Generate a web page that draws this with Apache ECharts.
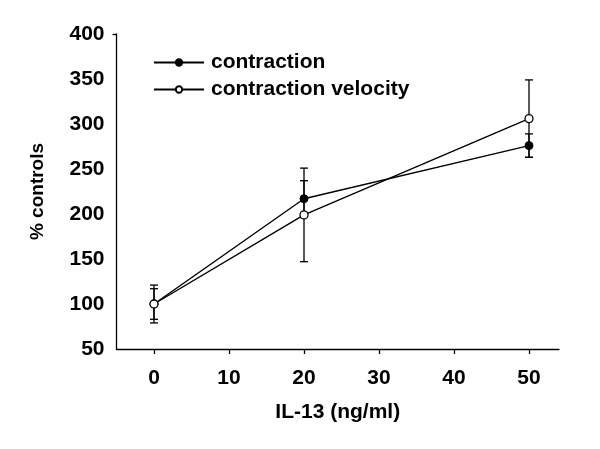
<!DOCTYPE html>
<html>
<head>
<meta charset="utf-8">
<script src="https://cdn.jsdelivr.net/npm/echarts@6/dist/echarts.min.js"></script>
<style>html,body{margin:0;padding:0;background:#fff}#c{width:600px;height:449px}</style>
</head>
<body>
<div id="c"></div>
<script>
const doses = [0, 20, 50];
const contraction = [100, 217, 276];
const contractionErr = [17, 20, 13];
const velocity = [100, 199, 306];
const velocityErr = [21, 52, 43];
const xTicks = [0, 10, 20, 30, 40, 50];
const yTicks = [50, 100, 150, 200, 250, 300, 350, 400];
const seriesNames = ['contraction', 'contraction velocity'];

const FONT = '"Liberation Sans", Arial, Helvetica, sans-serif';

function pairs(xs, ys) { return xs.map((x, i) => [x, ys[i]]); }
function errData(xs, ys, es) { return xs.map((x, i) => [x, ys[i] - es[i], ys[i] + es[i]]); }

function renderErr(params, api) {
  const x = api.value(0);
  const lo = api.coord([x, api.value(1)]);
  const hi = api.coord([x, api.value(2)]);
  const hw = 4;
  const st = { stroke: '#000', lineWidth: 1.3 };
  return {
    type: 'group',
    children: [
      { type: 'line', shape: { x1: lo[0], y1: lo[1], x2: hi[0], y2: hi[1] }, style: st },
      { type: 'line', shape: { x1: lo[0] - hw, y1: lo[1], x2: lo[0] + hw, y2: lo[1] }, style: st },
      { type: 'line', shape: { x1: hi[0] - hw, y1: hi[1], x2: hi[0] + hw, y2: hi[1] }, style: st }
    ]
  };
}

const chart = echarts.init(document.getElementById('c'), null, { renderer: 'canvas' });
chart.setOption({
  animation: false,
  backgroundColor: '#fff',
  textStyle: { fontFamily: FONT },
  grid: { left: 116.5, right: 41, top: 34, bottom: 100, containLabel: false },
  legend: {
    orient: 'vertical',
    left: 148,
    top: 47,
    itemWidth: 50,
    itemHeight: 8,
    itemGap: 6,
    data: seriesNames,
    textStyle: { fontFamily: FONT, fontWeight: 'bold', fontSize: 21, color: '#000', lineHeight: 21, padding: [0, 0, 0, 2] }
  },
  xAxis: {
    type: 'value',
    min: -5,
    max: 54,
    name: 'IL-13 (ng/ml)',
    nameLocation: 'middle',
    nameGap: 53,
    nameTextStyle: { fontFamily: FONT, fontWeight: 'bold', fontSize: 21, color: '#000' },
    axisLine: { show: true, onZero: false, lineStyle: { color: '#000', width: 1.3 } },
    axisTick: { show: true, customValues: xTicks, length: 5, inside: false, lineStyle: { color: '#000', width: 1.3 } },
    axisLabel: { customValues: xTicks, margin: 19, fontFamily: FONT, fontWeight: 'bold', fontSize: 21, color: '#000' },
    splitLine: { show: false }
  },
  yAxis: {
    type: 'value',
    min: 50,
    max: 400,
    name: '% controls',
    nameLocation: 'middle',
    nameGap: 69,
    nameTextStyle: { fontFamily: FONT, fontWeight: 'bold', fontSize: 19, color: '#000' },
    axisLine: { show: true, onZero: false, lineStyle: { color: '#000', width: 1.3 } },
    axisTick: { show: true, customValues: [400], length: 4, lineStyle: { color: '#000', width: 1.3 } },
    axisLabel: { customValues: yTicks, margin: 12, fontFamily: FONT, fontWeight: 'bold', fontSize: 21, color: '#000' },
    splitLine: { show: false }
  },
  series: [
    {
      type: 'custom', name: 'errC', renderItem: renderErr, z: 1,
      data: errData(doses, contraction, contractionErr), silent: true
    },
    {
      type: 'custom', name: 'errV', renderItem: renderErr, z: 1,
      data: errData(doses, velocity, velocityErr), silent: true
    },
    {
      type: 'line', name: seriesNames[0], z: 3,
      data: pairs(doses, contraction),
      symbol: 'circle', symbolSize: 8,
      lineStyle: { color: '#000', width: 1.4 },
      itemStyle: { color: '#000', borderColor: '#000', borderWidth: 1 }
    },
    {
      type: 'line', name: seriesNames[1], z: 4,
      data: pairs(doses, velocity),
      symbol: 'circle', symbolSize: 8,
      lineStyle: { color: '#000', width: 1.4 },
      itemStyle: { color: '#fff', borderColor: '#000', borderWidth: 1.3 }
    }
  ]
});
</script>
</body>
</html>
